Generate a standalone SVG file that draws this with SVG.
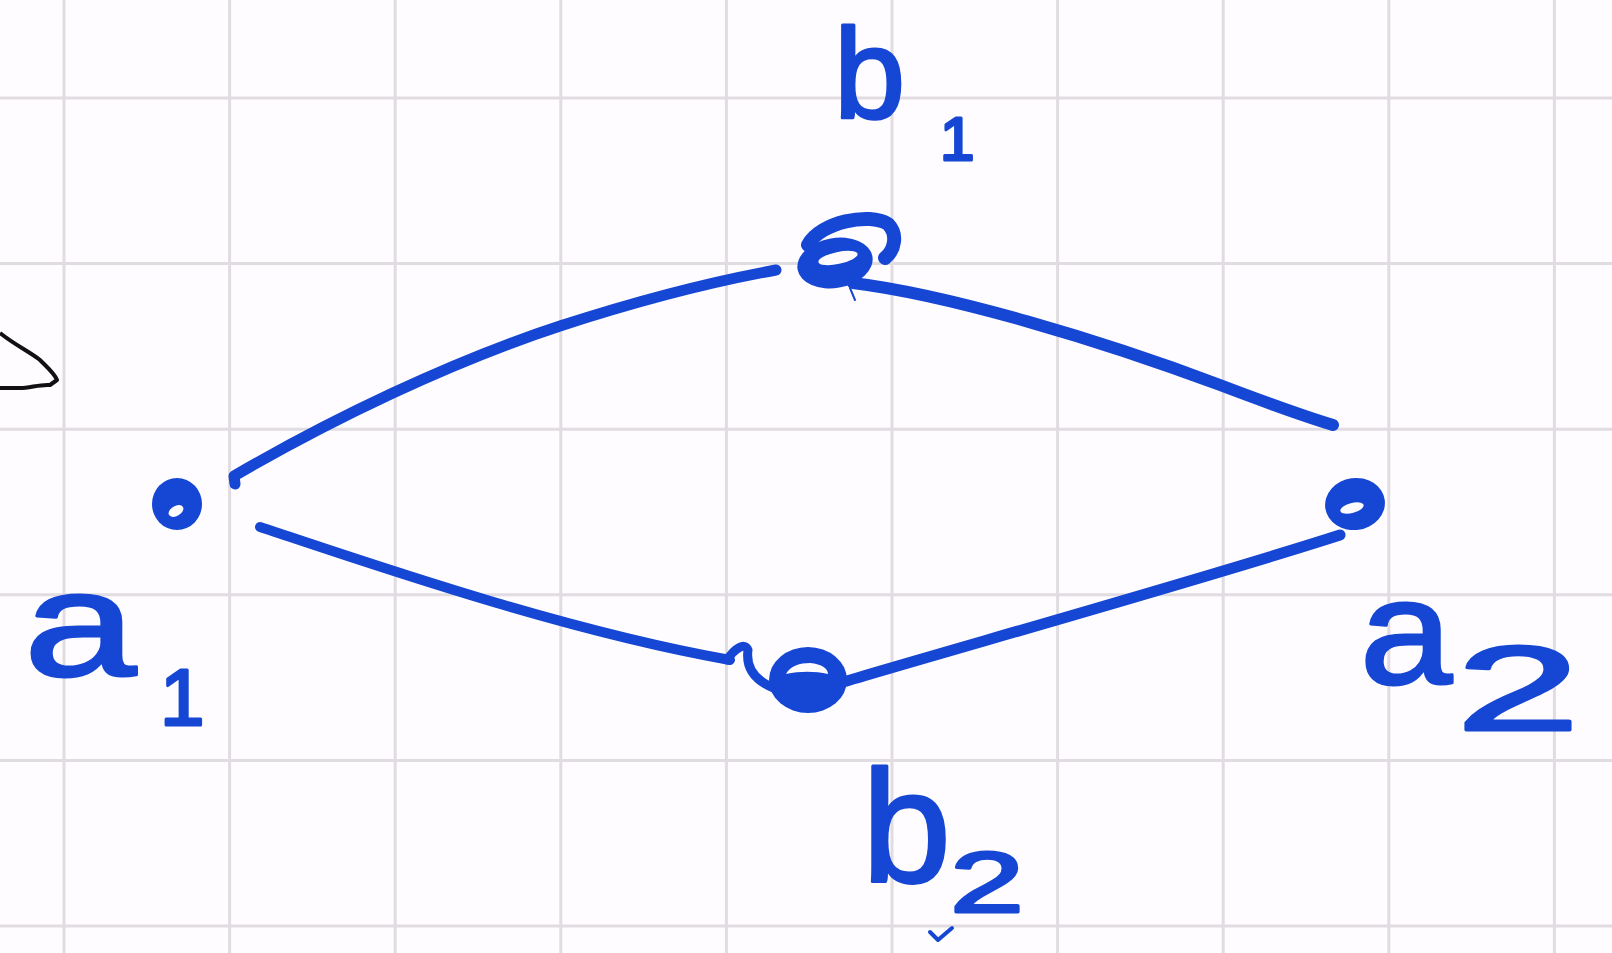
<svg xmlns="http://www.w3.org/2000/svg" width="1612" height="953" viewBox="0 0 1612 953">
<style>
.grid line{stroke:#e1dce1;stroke-width:3}
.ink{stroke:#1646d4;fill:none;stroke-linecap:round;stroke-linejoin:round}
.fill{fill:#1646d4}
.hole{fill:#fefcfe}
.lbl{font-family:"Liberation Sans","DejaVu Sans",sans-serif;fill:#1646d4;stroke:#1646d4;stroke-width:3;stroke-linejoin:round}
</style>
<rect width="1612" height="953" fill="#fefcfe"/>
<g class="grid">
<line x1="64" y1="0" x2="64" y2="953"/><line x1="229.6" y1="0" x2="229.6" y2="953"/><line x1="395.2" y1="0" x2="395.2" y2="953"/><line x1="560.8" y1="0" x2="560.8" y2="953"/><line x1="726.4" y1="0" x2="726.4" y2="953"/><line x1="892" y1="0" x2="892" y2="953"/><line x1="1057.6" y1="0" x2="1057.6" y2="953"/><line x1="1223.2" y1="0" x2="1223.2" y2="953"/><line x1="1388.8" y1="0" x2="1388.8" y2="953"/><line x1="1554.4" y1="0" x2="1554.4" y2="953"/>
<line x1="0" y1="98" x2="1612" y2="98"/><line x1="0" y1="263.6" x2="1612" y2="263.6"/><line x1="0" y1="429.2" x2="1612" y2="429.2"/><line x1="0" y1="594.8" x2="1612" y2="594.8"/><line x1="0" y1="760.4" x2="1612" y2="760.4"/><line x1="0" y1="926" x2="1612" y2="926"/>
</g>
<path d="M0,333 C15,345 30,352 40,360 C48,368 55,374 57,380 L50,385 C40,384 30,388 20,388 L0,388" fill="none" stroke="#111" stroke-width="4" stroke-linejoin="round"/>
<g id="connectors">
<path class="ink" stroke-width="11" d="M235,484 L234,476 C330,420 450,362 560,326 C640,300 710,282 776,270"/>
<path class="ink" stroke-width="12" d="M853,283 C950,295 1100,340 1220,385 C1270,404 1310,418 1333,425"/>
<path class="ink" stroke-width="10" d="M260,527 C360,560 560,630 730,660"/>
<path class="ink" stroke-width="11" d="M843,682 C950,650 1200,580 1340,535"/>
</g>
<g id="node-b1">
<ellipse class="fill" cx="835" cy="263" rx="38" ry="25" transform="rotate(-10 835 263)"/>
<ellipse class="hole" cx="838" cy="258" rx="20" ry="6" transform="rotate(-12 838 258)"/>
<path class="ink" stroke-width="14" d="M808,245 C820,222 870,212 888,224 C898,234 895,250 885,258"/>
<path class="ink" stroke-width="2" d="M850,288 L855,300"/>
<text class="lbl" x="834" y="118" font-size="128">b</text>
<text class="lbl" x="940" y="160" font-size="62">1</text>
</g>
<g id="node-b2">
<path class="ink" stroke-width="9" d="M727,660 C735,648 745,642 748,650 C745,672 760,685 785,692"/>
<ellipse class="fill" cx="808" cy="680" rx="39" ry="33"/>
<path class="hole" d="M786,674 C790,666 800,663 810,663 C822,664 828,669 828,674 C815,671 800,671 786,674 Z"/>
<text class="lbl" x="862" y="882" font-size="160">b</text>
<text class="lbl" x="950" y="912" font-size="86" textLength="74" lengthAdjust="spacingAndGlyphs">2</text>
<path class="ink" stroke-width="4" d="M930,932 L938,940 L952,928"/>
</g>
<g id="node-a1">
<ellipse class="fill" cx="177" cy="504" rx="25" ry="26"/>
<ellipse class="hole" cx="176" cy="511" rx="8" ry="5" transform="rotate(-30 176 511)"/>
<text class="lbl" x="24" y="676" font-size="150" textLength="112" lengthAdjust="spacingAndGlyphs">a</text>
<text class="lbl" x="160" y="725" font-size="80">1</text>
</g>
<g id="node-a2">
<ellipse class="fill" cx="1355" cy="504" rx="30" ry="26" transform="rotate(-8 1355 504)"/>
<ellipse class="hole" cx="1352" cy="508" rx="12" ry="5" transform="rotate(-15 1352 508)"/>
<text class="lbl" x="1360" y="684" font-size="150" textLength="92" lengthAdjust="spacingAndGlyphs">a</text>
<text class="lbl" x="1456" y="730" font-size="120" textLength="124" lengthAdjust="spacingAndGlyphs">2</text>
</g>
</svg>
